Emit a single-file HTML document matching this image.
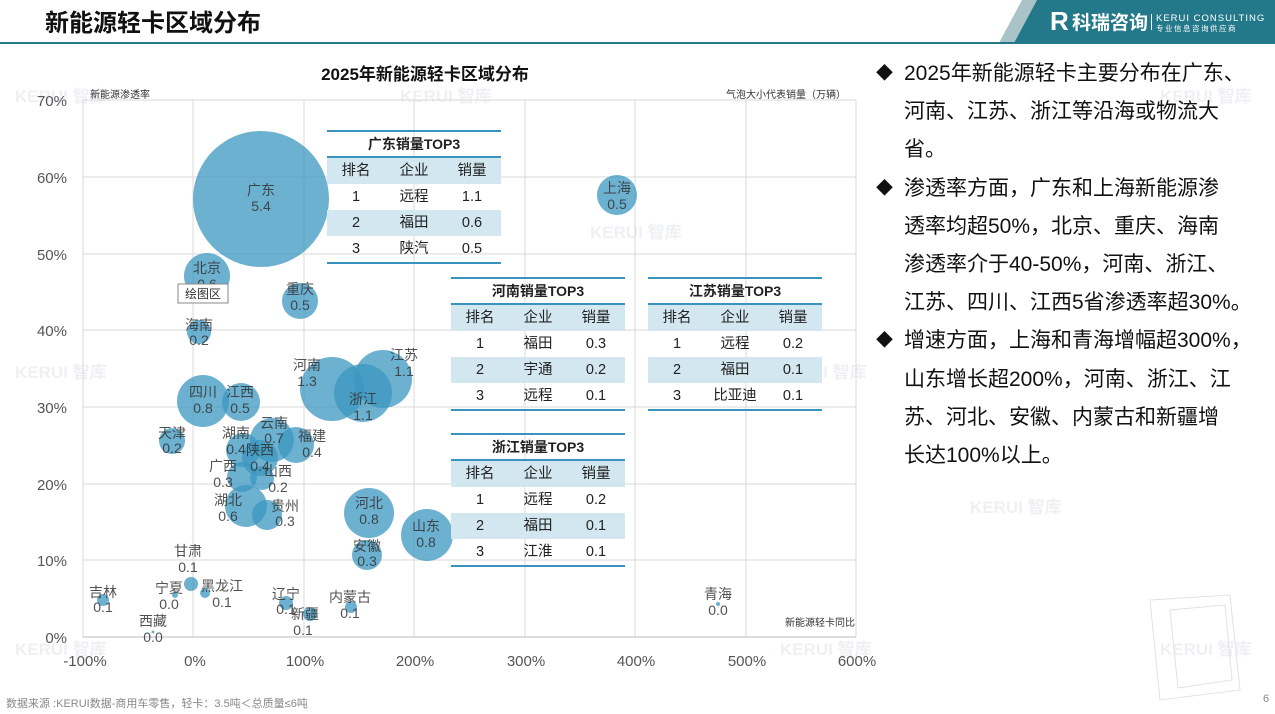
<!DOCTYPE html>
<html><head><meta charset="utf-8">
<style>
body{margin:0;width:1275px;height:714px;overflow:hidden;background:#fff;font-family:"Liberation Sans","Noto Sans CJK SC",sans-serif;position:relative}
.abs{position:absolute}
.tbl{position:absolute;width:174px;font-size:14.5px;color:#222;border-top:2px solid #3a93bf;border-bottom:2px solid #3a93bf}
.tbl .t{height:24px;line-height:24px;text-align:center;font-weight:bold;font-size:14px;border-bottom:2px solid #3a93bf}
.tbl .r{height:26px;line-height:26px;display:flex}
.tbl .r span{flex:1;text-align:center}
.tbl .sh{background:#d3e7f0}
.txt{position:absolute;left:876px;top:55px;width:399px;font-size:21px;line-height:38.2px;color:#111;white-space:nowrap}
.txt p{margin:0;padding-left:28px;position:relative}
.txt p:before{content:"◆";position:absolute;left:0;font-size:17px}
</style></head><body>
<svg class="abs" style="left:0;top:0" width="1275" height="714">
<polygon points="1022,0 1037,0 1014,43 999,43" fill="#a9c3c9"/>
<polygon points="1037,0 1275,0 1275,43 1014,43" fill="#23788a"/>
<rect x="0" y="42" width="1275" height="2" fill="#23788a"/>
<text x="45" y="31" font-size="24" font-weight="bold" fill="#111">新能源轻卡区域分布</text>
<text x="1050" y="30" font-size="26" font-weight="bold" fill="#fff">R</text>
<text x="1072" y="29" font-size="19" font-weight="bold" fill="#fff">科瑞咨询</text>
<rect x="1151" y="14" width="1" height="16" fill="#fff"/>
<text x="1156" y="21" font-size="9.5" fill="#fff" letter-spacing="1">KERUI CONSULTING</text>
<text x="1156" y="31" font-size="7.5" fill="#fff" letter-spacing="1.5">专业信息咨询供应商</text>
<g font-size="17" font-weight="bold" fill="#eef0f4">
<text x="15" y="102">KERUI 智库</text><text x="400" y="102">KERUI 智库</text><text x="1160" y="102">KERUI 智库</text>
<text x="15" y="378">KERUI 智库</text><text x="775" y="378">KERUI 智库</text><text x="590" y="238">KERUI 智库</text>
<text x="970" y="513">KERUI 智库</text><text x="15" y="655">KERUI 智库</text><text x="780" y="655">KERUI 智库</text><text x="1160" y="655">KERUI 智库</text>
</g>
<g stroke="#d8d8d8" stroke-width="1">
<line x1="83" y1="100" x2="856" y2="100"/><line x1="83" y1="177" x2="856" y2="177"/><line x1="83" y1="254" x2="856" y2="254"/><line x1="83" y1="330" x2="856" y2="330"/><line x1="83" y1="407" x2="856" y2="407"/><line x1="83" y1="484" x2="856" y2="484"/><line x1="83" y1="560" x2="856" y2="560"/>
<line x1="83" y1="100" x2="83" y2="637"/><line x1="193" y1="100" x2="193" y2="637"/><line x1="304" y1="100" x2="304" y2="637"/><line x1="414" y1="100" x2="414" y2="637"/><line x1="525" y1="100" x2="525" y2="637"/><line x1="635" y1="100" x2="635" y2="637"/><line x1="746" y1="100" x2="746" y2="637"/><line x1="856" y1="100" x2="856" y2="637"/>
</g>
<line x1="83" y1="637" x2="856" y2="637" stroke="#bbb"/>
<g font-size="15" fill="#555" text-anchor="end">
<text x="67" y="106">70%</text><text x="67" y="183">60%</text><text x="67" y="260">50%</text><text x="67" y="336">40%</text><text x="67" y="413">30%</text><text x="67" y="490">20%</text><text x="67" y="566">10%</text><text x="67" y="643">0%</text>
</g>
<g font-size="15" fill="#555" text-anchor="middle">
<text x="85" y="666">-100%</text><text x="195" y="666">0%</text><text x="305" y="666">100%</text><text x="415" y="666">200%</text><text x="526" y="666">300%</text><text x="636" y="666">400%</text><text x="747" y="666">500%</text><text x="857" y="666">600%</text>
</g>
<text x="425" y="80" font-size="17" font-weight="bold" fill="#111" text-anchor="middle">2025年新能源轻卡区域分布</text>
<text x="90" y="98" font-size="10" fill="#333">新能源渗透率</text>
<text x="846" y="98" font-size="10" fill="#333" text-anchor="end">气泡大小代表销量（万辆）</text>
<text x="855" y="626" font-size="10" fill="#333" text-anchor="end">新能源轻卡同比</text>
<g fill="#3b97c0" fill-opacity="0.75">
<circle cx="261" cy="199" r="68"/><circle cx="617" cy="195" r="20"/><circle cx="207" cy="276" r="23"/><circle cx="300" cy="301" r="18"/><circle cx="199" cy="332" r="12"/>
<circle cx="332" cy="389" r="32"/><circle cx="383" cy="379" r="29"/><circle cx="363" cy="393" r="29"/>
<circle cx="203" cy="401" r="26"/><circle cx="241" cy="402" r="19"/><circle cx="172" cy="441" r="13"/><circle cx="243" cy="450" r="17"/><circle cx="272" cy="440" r="22"/><circle cx="296" cy="445" r="18"/><circle cx="260" cy="458" r="18"/><circle cx="262" cy="478" r="12"/><circle cx="242" cy="477" r="15"/><circle cx="246" cy="506" r="21"/><circle cx="267" cy="515" r="15"/>
<circle cx="369" cy="513" r="25"/><circle cx="427" cy="535" r="26"/><circle cx="367" cy="555" r="15"/>
<circle cx="191" cy="584" r="7"/><circle cx="205" cy="593" r="5"/><circle cx="103" cy="600" r="6"/><circle cx="175" cy="595" r="3"/><circle cx="153" cy="632" r="1.5"/><circle cx="286" cy="603" r="7"/><circle cx="310" cy="614" r="7"/><circle cx="351" cy="607" r="6"/><circle cx="718" cy="604" r="2"/>
</g>
<g font-size="14" fill="#333" fill-opacity="0.85" text-anchor="middle">
<text x="261" y="195">广东</text><text x="261" y="211">5.4</text>
<text x="617" y="193">上海</text><text x="617" y="209">0.5</text>
<text x="207" y="273">北京</text><text x="207" y="289">0.6</text>
<text x="300" y="294">重庆</text><text x="300" y="310">0.5</text>
<text x="199" y="330">海南</text><text x="199" y="345">0.2</text>
<text x="307" y="370">河南</text><text x="307" y="386">1.3</text>
<text x="404" y="360">江苏</text><text x="404" y="376">1.1</text>
<text x="363" y="404">浙江</text><text x="363" y="420">1.1</text>
<text x="203" y="397">四川</text><text x="203" y="413">0.8</text>
<text x="240" y="397">江西</text><text x="240" y="413">0.5</text>
<text x="172" y="438">天津</text><text x="172" y="453">0.2</text>
<text x="236" y="438">湖南</text><text x="236" y="454">0.4</text>
<text x="274" y="428">云南</text><text x="274" y="443">0.7</text>
<text x="312" y="441">福建</text><text x="312" y="457">0.4</text>
<text x="260" y="455">陕西</text><text x="260" y="471">0.4</text>
<text x="278" y="476">山西</text><text x="278" y="492">0.2</text>
<text x="223" y="471">广西</text><text x="223" y="487">0.3</text>
<text x="228" y="505">湖北</text><text x="228" y="521">0.6</text>
<text x="285" y="511">贵州</text><text x="285" y="526">0.3</text>
<text x="369" y="508">河北</text><text x="369" y="524">0.8</text>
<text x="426" y="531">山东</text><text x="426" y="547">0.8</text>
<text x="367" y="551">安徽</text><text x="367" y="566">0.3</text>
<text x="188" y="556">甘肃</text><text x="188" y="572">0.1</text>
<text x="169" y="593">宁夏</text><text x="169" y="609">0.0</text>
<text x="222" y="591">黑龙江</text><text x="222" y="607">0.1</text>
<text x="103" y="597">吉林</text><text x="103" y="612">0.1</text>
<text x="153" y="626">西藏</text><text x="153" y="642">0.0</text>
<text x="286" y="599">辽宁</text><text x="286" y="614">0.1</text>
<text x="305" y="619">新疆</text><text x="303" y="635">0.1</text>
<text x="350" y="602">内蒙古</text><text x="350" y="618">0.1</text>
<text x="718" y="599">青海</text><text x="718" y="615">0.0</text>
</g>
<rect x="178" y="284" width="50" height="19" fill="#fff" stroke="#888" stroke-width="1"/>
<text x="203" y="298" font-size="12" fill="#333" text-anchor="middle">绘图区</text>
<g stroke="#e0e2e6" fill="none"><path d="M1150 600 L1230 595 L1240 690 L1160 700 Z"/><path d="M1170 610 L1225 605 L1232 680 L1178 688 Z"/></g>
<text x="6" y="707" font-size="11" fill="#888">数据来源 :KERUI数据-商用车零售，轻卡：3.5吨＜总质量≤6吨</text>
<text x="1263" y="702" font-size="11" fill="#888">6</text>
</svg>

<div class="tbl" style="left:327px;top:130px">
<div class="t">广东销量TOP3</div>
<div class="r sh"><span>排名</span><span>企业</span><span>销量</span></div>
<div class="r"><span>1</span><span>远程</span><span>1.1</span></div>
<div class="r sh"><span>2</span><span>福田</span><span>0.6</span></div>
<div class="r"><span>3</span><span>陕汽</span><span>0.5</span></div>
</div>
<div class="tbl" style="left:451px;top:277px">
<div class="t">河南销量TOP3</div>
<div class="r sh"><span>排名</span><span>企业</span><span>销量</span></div>
<div class="r"><span>1</span><span>福田</span><span>0.3</span></div>
<div class="r sh"><span>2</span><span>宇通</span><span>0.2</span></div>
<div class="r"><span>3</span><span>远程</span><span>0.1</span></div>
</div>
<div class="tbl" style="left:648px;top:277px">
<div class="t">江苏销量TOP3</div>
<div class="r sh"><span>排名</span><span>企业</span><span>销量</span></div>
<div class="r"><span>1</span><span>远程</span><span>0.2</span></div>
<div class="r sh"><span>2</span><span>福田</span><span>0.1</span></div>
<div class="r"><span>3</span><span>比亚迪</span><span>0.1</span></div>
</div>
<div class="tbl" style="left:451px;top:433px">
<div class="t">浙江销量TOP3</div>
<div class="r sh"><span>排名</span><span>企业</span><span>销量</span></div>
<div class="r"><span>1</span><span>远程</span><span>0.2</span></div>
<div class="r sh"><span>2</span><span>福田</span><span>0.1</span></div>
<div class="r"><span>3</span><span>江淮</span><span>0.1</span></div>
</div>

<div class="txt">
<p>2025年新能源轻卡主要分布在广东、<br>河南、江苏、浙江等沿海或物流大<br>省。</p>
<p>渗透率方面，广东和上海新能源渗<br>透率均超50%，北京、重庆、海南<br>渗透率介于40-50%，河南、浙江、<br>江苏、四川、江西5省渗透率超30%。</p>
<p>增速方面，上海和青海增幅超300%，<br>山东增长超200%，河南、浙江、江<br>苏、河北、安徽、内蒙古和新疆增<br>长达100%以上。</p>
</div>
</body></html>
